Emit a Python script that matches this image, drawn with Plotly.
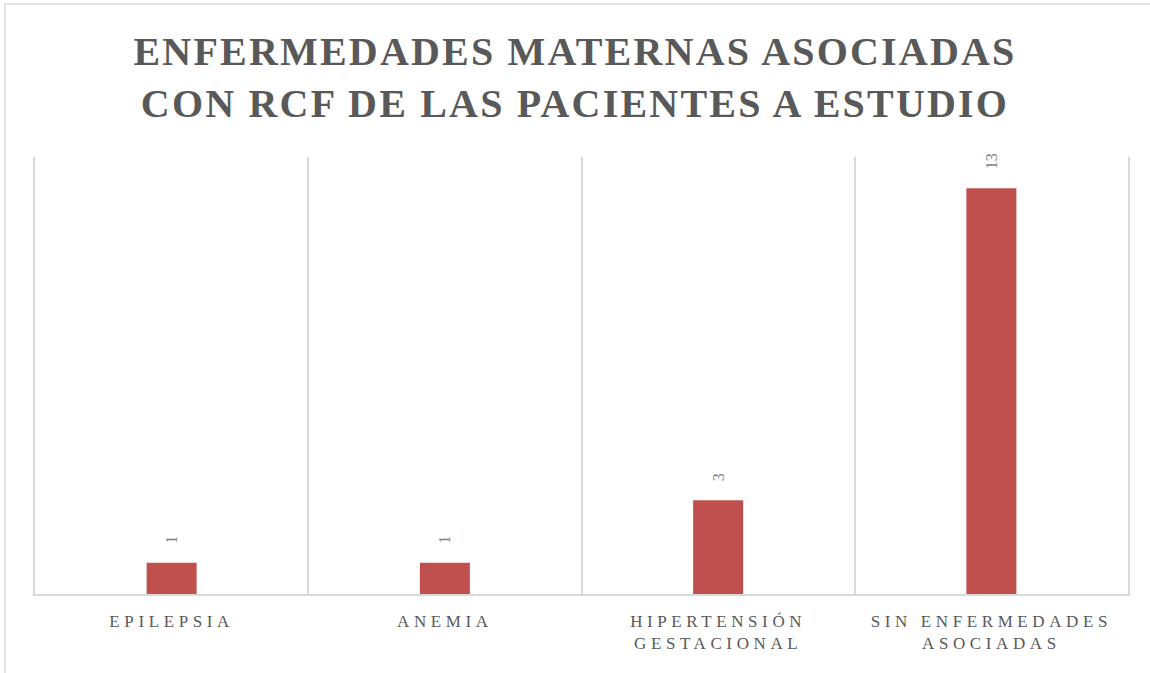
import plotly.graph_objects as go

# data
categories = ['EPILEPSIA', 'ANEMIA', 'HIPERTENSIÓN<br>GESTACIONAL', 'SIN ENFERMEDADES<br>ASOCIADAS']
values = [1, 1, 3, 13]
title_lines = ['ENFERMEDADES MATERNAS ASOCIADAS', 'CON RCF DE LAS PACIENTES A ESTUDIO']

BAR = '#C0504D'
GRID = '#D9D9D9'
TXT = '#595959'
SERIF = 'Liberation Serif, DejaVu Serif, serif'

fig = go.Figure(go.Bar(
    x=categories, y=values,
    marker=dict(color=BAR, line=dict(width=0)),
    width=0.183,
    text=['\u00a0\u00a0\u00a0\u00a0' + str(v) for v in values],
    textposition='outside', textangle=-90,
    textfont=dict(family=SERIF, size=16, color='#7F7F7F'),
    cliponaxis=False,
))

fig.update_layout(
    width=1150, height=673,
    paper_bgcolor='white', plot_bgcolor='white',
    margin=dict(l=35, r=22, t=157, b=79),
    title=dict(text='<br>'.join(title_lines), x=0.5, xanchor='center',
               y=0.903, yanchor='top',
               font=dict(family=SERIF, size=40, color=TXT, weight='bold')),
    showlegend=False,
)
fig.update_xaxes(
    tickson='boundaries', showgrid=True, gridcolor=GRID, gridwidth=1.5,
    showline=True, linecolor=GRID, linewidth=1.5, ticks='',
    ticklabelstandoff=11,
    tickfont=dict(family=SERIF, size=17, color=TXT),
)
fig.update_yaxes(range=[0, 14], showgrid=False, showticklabels=False, zeroline=False,
                 showline=True, mirror=True, linecolor=GRID, linewidth=1.5)

# outer chart border
fig.add_shape(type='rect', xref='paper', yref='paper',
              x0=-0.0274, x1=1.03, y0=-0.2, y1=1.35,
              line=dict(color=GRID, width=1.5))

# no page margin, letter-spaced title and category labels
js = """
document.body.style.margin = '0';
var gd = document.getElementById('{plot_id}');
gd.querySelectorAll('.gtitle').forEach(function(e){ e.style.letterSpacing = '2.2px'; });
gd.querySelectorAll('.xtick text').forEach(function(e){ e.style.letterSpacing = '4.6px'; });
"""
fig.write_html('out.html', post_script=js, config={'displayModeBar': False})
